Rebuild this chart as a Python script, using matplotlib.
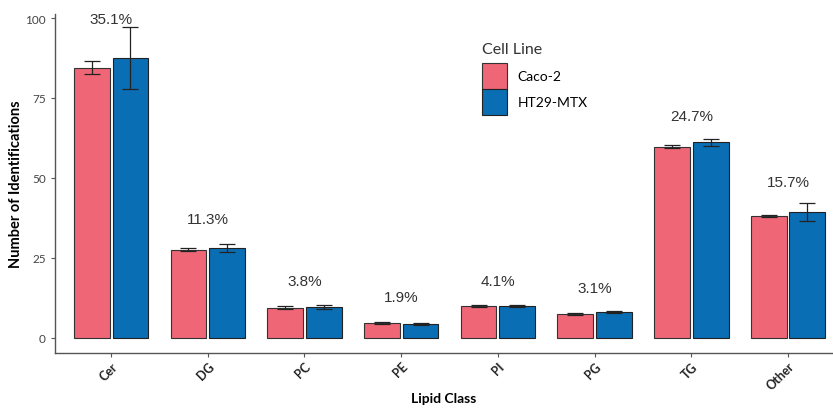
import matplotlib.pyplot as plt
import numpy as np

classes = ["Cer", "DG", "PC", "PE", "PI", "PG", "TG", "Other"]
caco2 = [84.5, 27.5, 9.4, 4.6, 10.0, 7.5, 59.7, 38.1]
caco2_err = [2.1, 0.5, 0.4, 0.3, 0.3, 0.3, 0.5, 0.4]
ht29 = [87.5, 28.0, 9.6, 4.4, 10.0, 8.0, 61.1, 39.2]
ht29_err = [9.8, 1.2, 0.7, 0.3, 0.4, 0.4, 1.2, 2.8]
percents = ["35.1%", "11.3%", "3.8%", "1.9%", "4.1%", "3.1%", "24.7%", "15.7%"]
label_y = [99.7, 37.2, 17.9, 12.8, 17.9, 15.6, 69.4, 48.7]

PINK = "#EF6677"
BLUE = "#0A6EB4"

fig = plt.figure(figsize=(8.33, 4.10), dpi=100)
ax = fig.add_axes([0.066, 0.137, 0.934, 0.826])

x = np.arange(len(classes))
w = 0.37
ax.bar(x - 0.2, caco2, w, color=PINK, edgecolor="#333333", linewidth=0.8, label="Caco-2")
ax.bar(x + 0.2, ht29, w, color=BLUE, edgecolor="#222222", linewidth=0.8, label="HT29-MTX")
ax.errorbar(x - 0.2, caco2, yerr=caco2_err, fmt="none", ecolor="#222222",
            elinewidth=0.9, capsize=6, capthick=0.9)
ax.errorbar(x + 0.2, ht29, yerr=ht29_err, fmt="none", ecolor="#222222",
            elinewidth=0.9, capsize=6, capthick=0.9)

# percentage labels above each group
for i, p in enumerate(percents):
    ax.text(x[i], label_y[i], p, ha="center", va="center", fontsize=11,
            color="#333333", family="Liberation Sans")

ax.set_xlim(-0.58, 7.465)
ax.set_ylim(-4.7, 101.2)
ax.set_yticks([0, 25, 50, 75, 100])
ax.set_xticks(x)
ax.set_xticklabels(classes, rotation=45, ha="right", rotation_mode="anchor",
                   fontsize=9, fontweight="bold", color="#222222", family="Lato")
for t in ax.get_yticklabels():
    t.set_family("Lato")
ax.tick_params(axis="y", labelsize=8.5, labelcolor="#444444", color="#555555", length=3)
ax.tick_params(axis="x", color="#555555", length=3, pad=2)

for s in ["top", "right"]:
    ax.spines[s].set_visible(False)
for s in ["left", "bottom"]:
    ax.spines[s].set_color("#555555")
    ax.spines[s].set_linewidth(1.0)

ax.set_xlabel("Lipid Class", fontsize=10, fontweight="bold", family="Lato", labelpad=0)
ax.set_ylabel("Number of Identifications", fontsize=10.5, fontweight="bold",
              family="Lato", labelpad=1.5)

leg = ax.legend(title="Cell Line", loc="upper left", bbox_to_anchor=(0.542, 0.935),
                frameon=False, prop={"family": "Lato", "size": 10},
                title_fontproperties={"family": "Lato", "size": 11.5},
                handlelength=1.75, handleheight=2.5, labelspacing=0.0,
                handletextpad=0.8, borderaxespad=0)
leg._legend_box.align = "left"
leg._legend_box.sep = 5  # gap between title and entries
leg.get_title().set_color("#333333")

plt.savefig("out.png", dpi=100)
